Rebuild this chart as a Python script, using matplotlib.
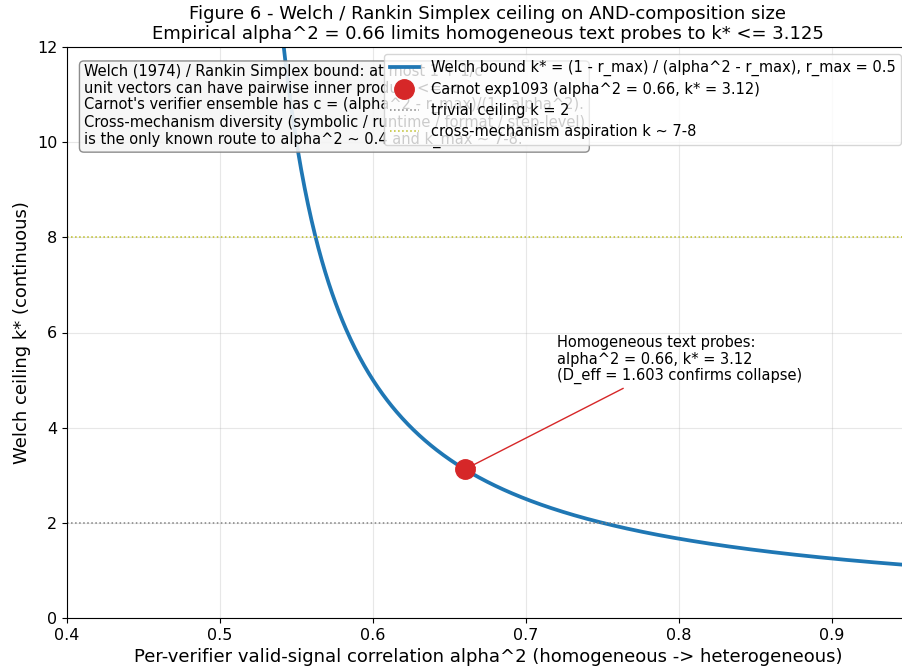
import numpy as np
import matplotlib.pyplot as plt

# Welch / Rankin bound data
r_max = 0.5
alpha2_grid = np.linspace(0.5005, 0.95, 600)
k_star = (1 - r_max) / (alpha2_grid - r_max)

carnot_alpha2 = 0.66
carnot_k = 3.125
trivial_k = 2
aspiration_k = 8

x_lim = (0.4, 0.95)
y_lim = (0, 12)

box_text = ("Welch (1974) / Rankin Simplex bound: at most 1 + 1/c\n"
            "unit vectors can have pairwise inner product <= -c.\n"
            "Carnot's verifier ensemble has c = (alpha^2 - r_max)/(1 - alpha^2).\n"
            "Cross-mechanism diversity (symbolic / runtime / format / step-level)\n"
            "is the only known route to alpha^2 ~ 0.4 and k_max ~ 7-8.")

fig = plt.figure(figsize=(9.02, 6.72), dpi=100)
# right edge of the axes runs a little past the image, as in the reference
ax = fig.add_axes([67 / 902, 1 - 618 / 672, 841.5 / 902, 571 / 672])

ax.plot(alpha2_grid, k_star, '-', color='tab:blue', lw=2.7,
        label="Welch bound k* = (1 - r_max) / (alpha^2 - r_max), r_max = 0.5")
ax.plot([carnot_alpha2], [carnot_k], 'o', color='tab:red', ms=14, zorder=5,
        label="Carnot exp1093 (alpha^2 = 0.66, k* = 3.12)")
ax.axhline(trivial_k, color='gray', ls=':', lw=1.1, label="trivial ceiling k = 2")
ax.axhline(aspiration_k, color='tab:olive', ls=':', lw=1.1,
           label="cross-mechanism aspiration k ~ 7-8")

ax.annotate("Homogeneous text probes:\nalpha^2 = 0.66, k* = 3.12\n(D_eff = 1.603 confirms collapse)",
            xy=(carnot_alpha2, carnot_k), xytext=(0.72, 5.0), fontsize=10.5,
            linespacing=1.12,
            arrowprops=dict(arrowstyle='->', color='tab:red', lw=1))

ax.text(0.02, 0.97, box_text, transform=ax.transAxes, va='top', ha='left',
        fontsize=10.5, linespacing=1.13,
        bbox=dict(boxstyle='round', facecolor='whitesmoke',
                  edgecolor='gray', alpha=0.9))

ax.set_xlim(*x_lim)
ax.set_ylim(*y_lim)
ax.set_xlabel("Per-verifier valid-signal correlation alpha^2 (homogeneous -> heterogeneous)",
              fontsize=13)
ax.set_ylabel("Welch ceiling k* (continuous)", fontsize=13)
ax.set_title("Figure 6 - Welch / Rankin Simplex ceiling on AND-composition size\n"
             "Empirical alpha^2 = 0.66 limits homogeneous text probes to k* <= 3.125",
             fontsize=13, linespacing=1.1)
ax.tick_params(labelsize=11.5)
ax.grid(True, alpha=0.3)
ax.legend(loc='upper right', fontsize=10.5, labelspacing=0.4)

fig.savefig("out.png", dpi=100)
